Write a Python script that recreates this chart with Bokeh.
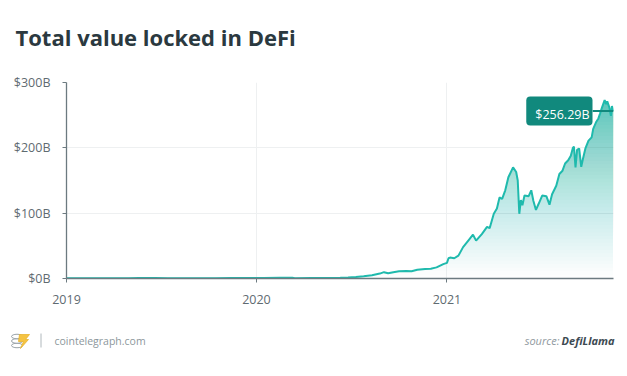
import numpy as np
import pandas as pd
from bokeh.plotting import figure
from bokeh.layouts import column
from bokeh.models import Range1d, FixedTicker, Label
from bokeh.core.properties import value
from bokeh.embed import file_html
from bokeh.resources import INLINE

# ---- data ----
dates = [
    "2019-01-01", "2019-02-01", "2019-03-01", "2019-04-01", "2019-05-01", "2019-05-20",
    "2019-06-20", "2019-07-15", "2019-08-15", "2019-09-15", "2019-10-15", "2019-11-15",
    "2019-12-15", "2020-01-15", "2020-02-15", "2020-03-10", "2020-03-15", "2020-04-15",
    "2020-05-15", "2020-06-10", "2020-06-25", "2020-07-10", "2020-07-25", "2020-08-10",
    "2020-08-25", "2020-09-02", "2020-09-10", "2020-09-20", "2020-10-01", "2020-10-15",
    "2020-10-25", "2020-11-05", "2020-11-20", "2020-12-01", "2020-12-12", "2020-12-25",
    "2021-01-01", "2021-01-04", "2021-01-07", "2021-01-15", "2021-01-23", "2021-02-01",
    "2021-02-11", "2021-02-20", "2021-02-26", "2021-03-09", "2021-03-19", "2021-03-24",
    "2021-04-01", "2021-04-07", "2021-04-12", "2021-04-17", "2021-04-23", "2021-04-29",
    "2021-05-08", "2021-05-14", "2021-05-17", "2021-05-20", "2021-05-23", "2021-05-26",
    "2021-05-30", "2021-06-07", "2021-06-12", "2021-06-16", "2021-06-21", "2021-06-26",
    "2021-07-03", "2021-07-11", "2021-07-17", "2021-07-22", "2021-07-30", "2021-08-05",
    "2021-08-11", "2021-08-16", "2021-08-22", "2021-08-27", "2021-08-31", "2021-09-02",
    "2021-09-05", "2021-09-08", "2021-09-12", "2021-09-16", "2021-09-19", "2021-09-24",
    "2021-09-30", "2021-10-06", "2021-10-09", "2021-10-15", "2021-10-19", "2021-10-22",
    "2021-10-26", "2021-10-31", "2021-11-03", "2021-11-05", "2021-11-09", "2021-11-12",
    "2021-11-14", "2021-11-17",
]
tvl_billions = [
    0.28, 0.30, 0.35, 0.45, 0.55, 0.75,
    0.65, 0.55, 0.50, 0.45, 0.50, 0.60,
    0.65, 0.80, 1.1, 1.0, 0.55, 0.75,
    0.9, 1.2, 1.6, 2.3, 3.5, 5.0,
    7.5, 9.7, 8.0, 9.5, 11.0, 11.5,
    11.0, 13.5, 14.5, 15.0, 17.0, 22.0,
    24.0, 31.0, 32.0, 31.0, 35.0, 48.0,
    58.0, 67.0, 58.0, 68.0, 79.0, 77.0,
    99.0, 107.0, 124.0, 122.0, 135.0, 155.0,
    170.0, 163.0, 150.0, 99.0, 120.0, 112.0,
    127.0, 126.0, 135.0, 119.0, 105.0, 114.0,
    127.0, 126.0, 113.0, 129.0, 142.0, 160.0,
    165.0, 176.0, 181.0, 188.0, 200.0, 202.0,
    170.0, 197.0, 199.0, 171.0, 182.0, 199.0,
    211.0, 216.0, 229.0, 240.0, 245.0, 252.0,
    262.0, 273.0, 267.0, 271.0, 262.0, 249.0,
    264.0, 256.29,
]
y_ticks = [0, 100, 200, 300]
y_tick_labels = ["$0B", "$100B", "$200B", "$300B"]
year_ticks = ["2019-01-01", "2020-01-01", "2021-01-01"]
year_labels = ["2019", "2020", "2021"]
last_label = "$256.29B"
title_text = "Total value locked in DeFi"
site_text = "cointelegraph.com"
source_prefix = "source:"
source_name = "DefiLlama"

# ---- styles ----
LINE = "#1fbaad"
FILL = "#26b9ad"
DARK_TEAL = "#11897d"
AXIS = "#6c7a80"
TICK_TXT = "#5f6b71"
GRID = "#eef0f1"
FONT = "Open Sans"
W = 627
HEAD_H, MAIN_H, FOOT_H = 60, 260, 56


def blank(height):
    f = figure(width=W, height=height, x_range=Range1d(0, W), y_range=Range1d(0, height),
               x_axis_location=None, y_axis_location=None, frame_align=False,
               min_border=0, output_backend="svg", toolbar_location=None)
    f.grid.visible = False
    f.outline_line_color = None
    f.background_fill_color = "white"
    f.border_fill_color = "white"
    return f


# ---- header ----
head = blank(HEAD_H)
head.text(x=[15], y=[HEAD_H - 36], text=[title_text], text_font=value(FONT),
          text_font_style="bold", text_font_size="22px", text_color="#2b3940",
          text_baseline="alphabetic")

# ---- main chart ----
x = pd.to_datetime(dates)
v = np.array(tvl_billions)
X0 = pd.Timestamp(dates[0]).value / 1e6
X1 = pd.Timestamp(dates[-1]).value / 1e6

p = figure(width=W, height=MAIN_H, x_axis_type="datetime",
           x_range=Range1d(X0, X1), y_range=Range1d(0, 300), frame_align=False,
           min_border_left=66, min_border_right=14, min_border_top=22, min_border_bottom=42,
           output_backend="svg", toolbar_location=None)
p.outline_line_color = None
p.background_fill_color = "white"
p.border_fill_color = "white"

# gradient area: stacked slices above thresholds
N = 50
top = 273.0
def T(y):
    return 0.68 * (y / top) ** 1.2
for k in range(N):
    t0 = top * k / N
    t1 = top * (k + 1) / N
    a_k = 1 - (1 - T(t1)) / (1 - T(t0))
    p.varea(x=x, y1=np.minimum(v, t0), y2=v, fill_color=FILL, fill_alpha=a_k)

p.line(x, v, line_color=LINE, line_width=2)

# connector + value label
p.segment(x0=[x[-1] - pd.Timedelta(days=40)], y0=[v[-1]], x1=[x[-1]], y1=[v[-1]],
          line_color=DARK_TEAL, line_width=2)
p.add_layout(Label(x=X1, y=v[-1], x_offset=-21, text=last_label, anchor="center_right",
                   text_font=FONT, text_font_size="12.5px", text_color="white",
                   background_fill_color=DARK_TEAL, padding=(9, 3, 9, 3), border_radius=4))

xa = p.xaxis[0]
xa.ticker = FixedTicker(ticks=[pd.Timestamp(d).value / 1e6 for d in year_ticks])
xa.major_label_overrides = {pd.Timestamp(d).value / 1e6: lab for d, lab in zip(year_ticks, year_labels)}
ya = p.yaxis[0]
ya.ticker = FixedTicker(ticks=y_ticks)
ya.major_label_overrides = {t: lab for t, lab in zip(y_ticks, y_tick_labels)}
for ax in (xa, ya):
    ax.minor_tick_line_color = None
    ax.major_tick_in = 0
    ax.major_tick_out = 4
    ax.axis_line_color = AXIS
    ax.axis_line_width = 1.3
    ax.major_tick_line_color = AXIS
    ax.major_label_text_font = FONT
    ax.major_label_text_font_size = "12.5px"
    ax.major_label_text_color = TICK_TXT
    ax.major_label_standoff = 12

p.xgrid.ticker = xa.ticker
p.ygrid.ticker = ya.ticker
p.xgrid.grid_line_color = GRID
p.ygrid.grid_line_color = GRID

# ---- footer ----
foot = blank(FOOT_H)
BASE = FOOT_H - 20  # baseline (20 px below footer top)
foot.text(x=[54], y=[BASE], text=[site_text], text_font=value(FONT), text_font_size="10.5px",
          text_color="#8d979c", text_baseline="alphabetic")
foot.text(x=[614], y=[BASE], text=[source_name], text_font=value(FONT),
          text_font_style="bold italic", text_font_size="11px", text_color="#3d4a52",
          text_baseline="alphabetic", text_align="right")
foot.text(x=[559], y=[BASE], text=[source_prefix], text_font=value(FONT),
          text_font_style="italic", text_font_size="11px", text_color="#8f999e",
          text_baseline="alphabetic", text_align="right")
# separator
foot.segment(x0=[40.5], y0=[FOOT_H - 13], x1=[40.5], y1=[FOOT_H - 27],
             line_color="#b0b8bc", line_width=1)
# logo: coin stack + lightning
foot.ellipse(x=[16.5, 16.5, 16.5], y=[FOOT_H - 25, FOOT_H - 20.5, FOOT_H - 16],
             width=11, height=4.5, fill_color="white", line_color="#9aa3a8", line_width=1)
foot.patch(x=[19, 29, 25, 28, 20, 23, 18],
           y=[FOOT_H - c for c in (14, 14, 19, 19, 28, 21, 21)],
           fill_color="#f5c342", line_color="#e8b530", line_width=0.8)

layout = column(head, p, foot, spacing=0)
open("out.html", "w").write(file_html(layout, INLINE))
